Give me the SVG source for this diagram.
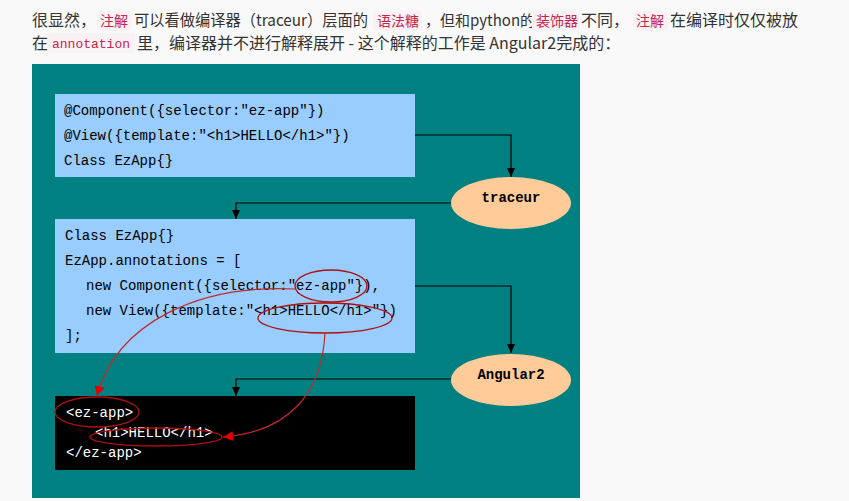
<svg xmlns="http://www.w3.org/2000/svg" width="849" height="501" viewBox="0 0 849 501">
<style>
.hd{font-family:"Noto Sans CJK SC","Liberation Sans",sans-serif;font-size:16px;fill:#333}
.hc{font-family:"Noto Sans CJK SC","Liberation Sans",sans-serif;font-size:14px;fill:#c7254e}
.hm{font-family:"Liberation Mono",monospace;font-size:13px;fill:#c7254e}
.hl{fill:#f9f2f4}
.code{font-family:"Liberation Mono","DejaVu Sans Mono",monospace;font-size:14px;fill:#000}
.codew{font-family:"Liberation Mono","DejaVu Sans Mono",monospace;font-size:14px;fill:#fff}
.lbl{font-family:"Liberation Mono","DejaVu Sans Mono",monospace;font-size:14px;font-weight:bold;fill:#000;text-anchor:middle}
.conn{fill:none;stroke:#000;stroke-width:1.2}
.red{fill:none;stroke:#c0282d;stroke-width:1.2}
.ring{fill:none;stroke:#b01010;stroke-width:1.3}
</style>
<defs>
<marker id="ab" markerUnits="userSpaceOnUse" markerWidth="10" markerHeight="10" refX="9" refY="4" orient="auto"><path d="M0,0 L9,4 L0,8 z" fill="#000"/></marker>
<marker id="ar" markerUnits="userSpaceOnUse" markerWidth="12" markerHeight="12" refX="10" refY="5" orient="auto"><path d="M0,0 L10,5 L0,10 z" fill="#e00000"/></marker>
</defs>
<rect x="0" y="0" width="849" height="501" fill="#f9f9f9"/>
<g id="header">
<text class="hd" x="32" y="26">很显然，</text>
<rect class="hl" x="97" y="11" width="34" height="20" rx="3"/>
<text class="hc" x="100" y="26">注解</text>
<text class="hd" x="134" y="26" textLength="234" lengthAdjust="spacingAndGlyphs">可以看做编译器（traceur）层面的</text>
<rect class="hl" x="373" y="11" width="49" height="20" rx="3"/>
<text class="hc" x="377" y="26">语法糖</text>
<text class="hd" x="425" y="26" style="font-size:15px">，但和python的</text>
<rect class="hl" x="532" y="11" width="47" height="20" rx="3"/>
<text class="hc" x="536" y="26">装饰器</text>
<text class="hd" x="581" y="26">不同，</text>
<rect class="hl" x="633" y="11" width="35" height="20" rx="3"/>
<text class="hc" x="636" y="26">注解</text>
<text class="hd" x="670" y="26">在编译时仅仅被放</text>
<text class="hd" x="32" y="49">在</text>
<rect class="hl" x="48" y="33" width="87" height="20" rx="3"/>
<text class="hm" x="52" y="48">annotation</text>
<text class="hd" x="137" y="49">里，编译器并不进行解释展开 - 这个解释的工作是 Angular2完成的：</text>
</g>
<rect x="32" y="64" width="548" height="434" fill="#008080"/>
<g id="source">
<rect x="55" y="94" width="360" height="83" fill="#99ccff"/>
<text class="code" x="64" y="115">@Component({selector:"ez-app"})</text>
<text class="code" x="64" y="140">@View({template:"&lt;h1&gt;HELLO&lt;/h1&gt;"})</text>
<text class="code" x="64" y="165">Class EzApp{}</text>
</g>
<g id="traceur">
<ellipse cx="511" cy="203" rx="60" ry="26" fill="#ffcc99"/>
<text class="lbl" x="511" y="202">traceur</text>
</g>
<g id="compiled">
<rect x="55" y="219" width="360" height="134" fill="#99ccff"/>
<text class="code" x="65" y="240">Class EzApp{}</text>
<text class="code" x="65" y="265">EzApp.annotations = [</text>
<text class="code" x="86" y="290">new Component({selector:"ez-app"}),</text>
<text class="code" x="86" y="315">new View({template:"&lt;h1&gt;HELLO&lt;/h1&gt;"})</text>
<text class="code" x="65" y="340">];</text>
</g>
<g id="angular2">
<ellipse cx="511" cy="380" rx="60" ry="26" fill="#ffcc99"/>
<text class="lbl" x="511" y="379">Angular2</text>
</g>
<g id="output">
<rect x="55" y="396" width="360" height="74" fill="#000"/>
<text class="codew" x="66" y="417">&lt;ez-app&gt;</text>
<text class="codew" x="95" y="437">&lt;h1&gt;HELLO&lt;/h1&gt;</text>
<text class="codew" x="66" y="457">&lt;/ez-app&gt;</text>
</g>
<g id="connectors">
<path class="conn" d="M415,135 H511 V177" marker-end="url(#ab)"/>
<path class="conn" d="M451,203 H236 V219" marker-end="url(#ab)"/>
<path class="conn" d="M415,286 H511 V353" marker-end="url(#ab)"/>
<path class="conn" d="M451,379 H236 V396" marker-end="url(#ab)"/>
<ellipse class="ring" cx="331" cy="286" rx="36" ry="16"/>
<ellipse class="ring" cx="325" cy="318" rx="67" ry="15"/>
<ellipse class="ring" cx="97" cy="412" rx="42" ry="15"/>
<ellipse class="ring" cx="156" cy="437" rx="66" ry="9"/>
<path class="red" d="M296,289 C200,284 117,322 97,396" marker-end="url(#ar)"/>
<path class="red" d="M325,333 C322,392 290,432 223,437" marker-end="url(#ar)"/>
</g>
</svg>
